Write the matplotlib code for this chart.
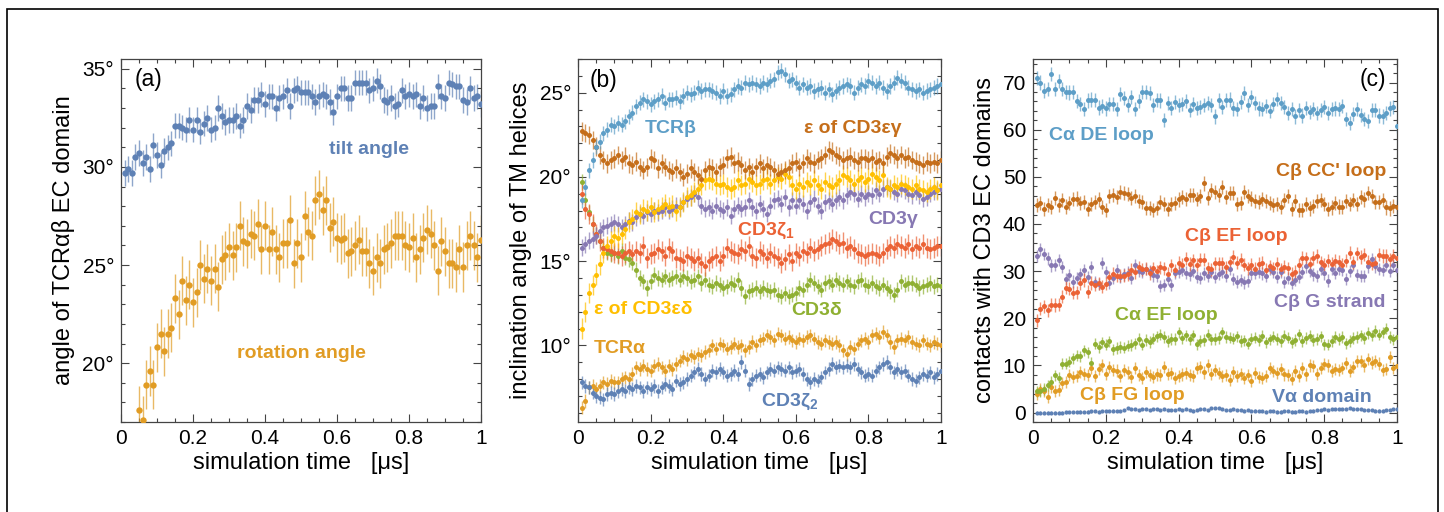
import numpy as np
import matplotlib.pyplot as plt
from matplotlib.colors import to_rgba
from matplotlib.patches import Rectangle
from matplotlib.ticker import MultipleLocator, FuncFormatter

plt.rcParams['font.family'] = ['Liberation Sans', 'DejaVu Sans']
plt.rcParams['mathtext.fontset'] = 'custom'
plt.rcParams['mathtext.rm'] = 'Liberation Sans'
plt.rcParams['mathtext.bf'] = 'Liberation Sans:bold'

# -----------------------------
# data, time in microseconds
# -----------------------------
t = np.round(np.arange(1, 101) * 0.01, 2)

# (a) orientation of the TCR EC domain
tilt = [29.7, 29.9, 29.7, 30.5, 30.7, 30.2, 30.5, 29.9, 31.1, 30.6,
        30.1, 30.8, 31.0, 31.2, 32.1, 32.1, 32.0, 31.9, 32.4, 31.9,
        32.4, 31.8, 32.2, 32.5, 31.9, 32.0, 33.0, 32.6, 32.3, 32.4,
        32.4, 32.6, 32.1, 32.4, 33.1, 32.9, 33.4, 33.4, 33.7, 33.2,
        33.6, 33.6, 33.0, 33.5, 33.6, 33.9, 33.1, 33.9, 34.0, 33.8,
        33.8, 33.8, 33.6, 33.3, 33.6, 33.7, 33.6, 33.3, 32.8, 33.6,
        34.0, 34.0, 33.5, 33.5, 34.3, 34.3, 34.3, 34.3, 33.9, 34.0,
        34.4, 34.1, 33.4, 33.3, 33.5, 33.1, 33.2, 33.9, 33.6, 33.7,
        33.6, 33.7, 33.1, 33.5, 33.0, 33.1, 33.1, 34.1, 33.6, 33.5,
        34.3, 34.2, 34.1, 34.1, 33.4, 33.3, 34.0, 33.5, 33.6, 33.2]
rotation = [13.0, 14.0, 15.0, 15.6, 17.6, 17.1, 18.9, 19.6, 18.9, 20.8,
            21.5, 20.6, 21.5, 21.8, 23.3, 22.5, 24.2, 23.2, 24.0, 23.1,
            23.6, 25.0, 24.3, 24.8, 24.2, 24.8, 23.9, 25.3, 25.5, 25.9,
            25.5, 25.9, 27.0, 26.2, 26.1, 26.6, 26.5, 27.1, 25.8, 27.0,
            25.8, 26.7, 25.8, 25.4, 26.1, 26.1, 27.3, 25.1, 26.1, 25.4,
            27.5, 26.7, 26.5, 28.3, 28.6, 27.8, 28.3, 26.9, 27.2, 26.4,
            26.3, 26.4, 25.6, 25.7, 26.0, 26.3, 25.7, 25.7, 25.1, 24.7,
            25.4, 25.1, 25.8, 25.9, 26.1, 26.5, 26.5, 26.5, 26.0, 25.9,
            26.4, 25.4, 25.8, 26.4, 26.8, 26.6, 26.0, 24.7, 26.2, 25.7,
            25.1, 25.1, 24.9, 25.8, 24.9, 26.0, 26.5, 26.0, 25.4, 26.3]
err_tilt = 0.65
err_rotation = 1.25

# (b) inclination of the TM helices
tcr_b = [18.6, 19.4, 20.4, 21.0, 21.8, 22.1, 22.6, 22.8, 23.1, 23.0,
         23.2, 23.1, 23.3, 23.6, 23.8, 24.2, 24.4, 24.6, 24.5, 24.3,
         24.5, 24.6, 24.8, 24.4, 24.6, 24.6, 24.7, 24.5, 24.8, 25.0,
         24.9, 25.0, 25.3, 25.1, 25.2, 25.2, 25.1, 25.0, 24.8, 25.1,
         24.8, 24.9, 25.2, 25.4, 25.3, 25.6, 25.5, 25.6, 25.5, 25.4,
         25.6, 25.5, 25.7, 25.8, 26.2, 26.3, 26.1, 25.7, 25.8, 25.6,
         25.3, 25.5, 25.3, 25.4, 25.1, 25.2, 25.3, 25.0, 25.2, 24.9,
         25.1, 25.3, 25.4, 25.5, 25.4, 25.0, 25.3, 25.5, 25.4, 25.7,
         25.6, 25.4, 25.6, 25.3, 25.1, 25.4, 25.6, 25.9, 25.7, 25.6,
         25.3, 25.2, 25.1, 25.2, 25.0, 25.1, 25.2, 25.3, 25.4, 25.5]
eps_eg = [22.7, 22.6, 22.5, 22.2, 21.8, 21.3, 21.0, 20.8, 21.0, 21.1,
          21.3, 21.0, 21.2, 20.8, 20.7, 20.9, 20.6, 20.4, 20.6, 21.1,
          21.0, 20.5, 20.8, 20.6, 20.4, 20.3, 20.5, 20.3, 20.0, 20.2,
          20.5, 20.3, 20.1, 19.9, 20.4, 20.6, 20.5, 20.3, 20.6, 20.7,
          21.1, 21.2, 20.8, 20.9, 20.7, 20.4, 20.6, 20.3, 20.6, 20.8,
          20.5, 20.7, 20.6, 20.4, 20.2, 20.3, 20.4, 20.5, 20.8, 20.9,
          20.6, 20.8, 21.1, 20.9, 20.8, 21.0, 21.1, 21.3, 21.6, 21.5,
          21.3, 21.2, 21.0, 21.1, 21.2, 21.0, 20.9, 21.1, 21.1, 21.0,
          21.1, 20.9, 21.0, 20.8, 21.2, 21.4, 21.3, 21.1, 21.3, 21.1,
          21.2, 21.0, 20.9, 20.8, 20.7, 20.9, 20.8, 20.9, 20.8, 21.0]
eps_ed = [11.0, 12.0, 13.1, 13.6, 14.2, 14.8, 15.5, 15.9, 16.2, 16.5,
          16.4, 16.6, 16.9, 17.3, 17.5, 17.9, 17.8, 18.1, 18.0, 18.2,
          17.9, 18.1, 18.2, 18.4, 18.2, 18.3, 18.0, 18.2, 18.5, 18.8,
          18.9, 19.1, 19.3, 19.5, 19.8, 19.9, 19.8, 19.6, 19.5, 19.6,
          19.4, 19.3, 19.4, 19.8, 19.5, 19.6, 19.9, 19.7, 19.5, 19.6,
          19.8, 19.9, 19.6, 19.8, 20.0, 19.9, 20.2, 20.0, 19.5, 19.3,
          19.6, 19.4, 19.7, 19.5, 19.8, 19.5, 19.3, 19.7, 19.5, 19.4,
          19.6, 19.8, 20.1, 20.0, 19.8, 19.6, 19.8, 20.0, 19.7, 19.9,
          20.2, 20.0, 19.8, 20.1, 19.4, 19.3, 19.5, 19.4, 19.6, 19.5,
          19.4, 19.3, 19.5, 19.3, 19.2, 19.1, 19.3, 19.4, 19.2, 19.5]
cd3_g = [15.8, 16.0, 16.2, 16.3, 16.5, 16.8, 17.0, 17.1, 17.2, 17.3,
         17.2, 17.0, 17.2, 17.4, 17.3, 17.6, 17.8, 17.7, 17.9, 17.8,
         18.0, 17.9, 18.0, 18.2, 18.0, 18.1, 18.3, 18.2, 18.5, 18.7,
         18.8, 19.0, 18.8, 18.3, 18.1, 18.2, 18.0, 18.3, 18.1, 18.0,
         18.2, 17.7, 18.1, 18.3, 18.1, 18.2, 18.6, 18.2, 18.0, 18.4,
         18.1, 17.8, 18.3, 18.6, 18.7, 18.4, 18.8, 18.2, 18.6, 18.3,
         18.6, 18.4, 18.0, 18.5, 18.7, 18.3, 18.0, 18.5, 18.6, 18.4,
         18.6, 18.8, 18.6, 18.9, 19.1, 19.0, 18.7, 19.0, 18.8, 19.0,
         18.9, 19.2, 19.0, 19.3, 19.4, 19.3, 19.1, 19.0, 19.3, 19.2,
         19.0, 18.9, 19.1, 18.9, 18.7, 18.8, 19.0, 19.1, 19.2, 19.3]
cd3_z1 = [19.0, 18.1, 17.8, 17.2, 16.6, 16.2, 15.8, 15.7, 15.6, 15.5,
          15.5, 15.3, 15.5, 15.6, 15.4, 15.6, 15.5, 15.9, 15.2, 15.4,
          15.5, 15.7, 15.6, 15.3, 15.8, 15.6, 15.2, 15.1, 15.0, 15.3,
          15.2, 15.0, 15.2, 14.9, 14.7, 15.0, 15.2, 15.3, 15.0, 15.3,
          15.8, 15.6, 15.5, 15.4, 15.7, 15.6, 15.9, 15.3, 15.2, 15.6,
          15.4, 15.2, 15.5, 15.3, 15.2, 14.9, 15.1, 15.4, 15.0, 15.5,
          15.3, 15.6, 15.5, 15.8, 15.6, 15.7, 15.9, 16.0, 16.1, 16.3,
          16.2, 16.0, 16.1, 15.8, 15.9, 15.7, 15.5, 15.4, 15.3, 15.4,
          15.5, 15.4, 15.3, 15.5, 15.7, 15.9, 15.8, 16.0, 15.9, 15.8,
          16.0, 15.7, 15.9, 15.8, 16.0, 15.8, 15.7, 15.8, 15.9, 15.9]
cd3_d = [19.7, 18.6, 17.9, 17.2, 16.6, 16.2, 15.8, 15.5, 15.4, 15.5,
         15.3, 15.6, 15.2, 15.1, 14.9, 14.5, 14.0, 13.8, 13.4, 13.8,
         14.2, 14.0, 13.9, 14.1, 13.9, 14.0, 14.1, 13.9, 14.1, 14.0,
         13.8, 13.9, 14.1, 13.7, 13.9, 13.6, 13.5, 13.7, 13.6, 13.4,
         13.5, 13.7, 13.6, 13.9, 13.4, 12.9, 13.2, 13.3, 13.4, 13.2,
         13.4, 13.3, 13.2, 13.3, 13.0, 12.9, 13.1, 12.9, 13.0, 13.1,
         13.4, 13.3, 13.6, 13.9, 13.7, 13.5, 13.3, 13.7, 13.8, 13.6,
         13.9, 13.7, 13.6, 13.8, 13.6, 13.5, 13.8, 13.9, 13.6, 13.5,
         13.7, 13.5, 13.4, 13.6, 13.4, 13.2, 13.0, 13.3, 13.8, 13.6,
         13.7, 13.7, 13.6, 13.4, 13.5, 13.6, 13.7, 13.5, 13.6, 13.5]
tcr_a = [6.3, 6.7, 7.5, 7.6, 7.4, 7.6, 7.8, 7.7, 7.9, 7.8,
         7.8, 8.0, 8.1, 8.0, 8.3, 8.7, 8.6, 8.8, 8.6, 8.5,
         8.8, 8.9, 8.7, 8.5, 8.8, 8.6, 8.9, 9.1, 9.3, 9.2,
         9.4, 9.3, 9.5, 9.4, 9.6, 9.7, 10.0, 9.8, 10.1, 10.0,
         9.8, 9.9, 10.1, 9.9, 10.0, 9.7, 9.9, 10.2, 10.0, 10.3,
         10.4, 10.6, 10.5, 10.3, 10.7, 10.6, 10.4, 10.5, 10.3, 10.2,
         10.4, 10.3, 10.5, 10.6, 10.4, 10.2, 10.1, 10.3, 10.2, 10.1,
         10.2, 10.0, 9.7, 9.5, 9.9, 9.8, 10.1, 10.3, 10.4, 10.2,
         10.6, 10.7, 10.5, 10.8, 10.6, 10.2, 9.9, 10.3, 10.4, 10.3,
         10.5, 10.2, 10.1, 10.0, 10.3, 10.1, 10.0, 10.2, 10.1, 10.0]
cd3_z2 = [7.8, 7.6, 7.5, 7.2, 7.0, 6.9, 6.8, 7.1, 7.2, 7.1,
          7.3, 7.4, 7.3, 7.5, 7.4, 7.6, 7.5, 7.3, 7.5, 7.4,
          7.6, 7.3, 7.5, 7.7, 7.6, 7.4, 7.9, 7.7, 7.8, 8.0,
          8.2, 8.4, 8.6, 8.3, 8.0, 8.2, 8.5, 8.4, 8.6, 8.4,
          8.2, 8.3, 8.5, 8.3, 9.0, 8.5, 7.7, 8.0, 8.2, 8.3,
          8.1, 8.4, 8.6, 8.5, 8.7, 8.6, 8.5, 8.7, 8.4, 8.5,
          8.6, 8.3, 8.0, 7.8, 8.0, 7.9, 8.1, 8.4, 8.6, 8.9,
          8.7, 8.8, 8.7, 8.8, 8.7, 8.9, 8.6, 8.4, 8.2, 8.3,
          8.2, 8.5, 8.7, 8.9, 9.0, 8.7, 8.4, 8.6, 8.4, 8.5,
          8.2, 8.0, 7.9, 8.1, 8.3, 8.2, 8.4, 8.1, 8.3, 8.5]
err_b = {"tcr_b": 0.45, "eps_eg": 0.55, "eps_ed": 0.6, "cd3_g": 0.5,
         "cd3_z1": 0.6, "cd3_d": 0.45, "tcr_a": 0.4, "cd3_z2": 0.4}

# (c) contacts with the CD3 EC domains
ca_de = [71.0, 70.0, 68.3, 68.7, 71.8, 68.6, 70.4, 68.7, 68.0, 67.9,
         68.0, 66.0, 65.5, 64.3, 66.2, 66.4, 66.3, 64.7, 65.0, 64.5,
         65.5, 65.4, 64.3, 67.5, 66.8, 65.2, 67.0, 64.4, 66.0, 68.0,
         68.0, 67.7, 65.3, 66.3, 66.2, 62.1, 65.6, 64.6, 65.8, 65.2,
         65.4, 66.1, 64.2, 65.4, 64.6, 64.8, 65.2, 65.6, 65.3, 62.8,
         66.2, 64.9, 66.3, 66.4, 64.5, 64.3, 65.8, 67.7, 65.3, 67.0,
         65.7, 64.5, 64.3, 65.0, 64.0, 65.4, 66.5, 65.6, 64.8, 63.5,
         64.4, 62.8, 64.2, 63.0, 64.6, 63.8, 64.3, 63.6, 64.2, 64.9,
         63.6, 64.3, 64.5, 64.4, 65.1, 62.3, 61.5, 63.3, 64.4, 63.1,
         62.3, 61.9, 64.2, 64.1, 63.0, 62.8, 63.5, 64.5, 64.8, 60.8]
cb_cc = [44.0, 44.5, 43.2, 44.0, 43.6, 45.6, 44.1, 45.0, 43.7, 44.4,
         45.3, 45.4, 44.4, 44.6, 43.2, 44.2, 44.6, 45.2, 43.6, 43.0,
         46.0, 46.2, 45.8, 46.8, 46.5, 46.4, 45.5, 46.0, 44.9, 44.6,
         43.4, 43.4, 43.0, 43.4, 44.6, 44.2, 43.1, 44.3, 44.5, 45.2,
         45.8, 45.3, 46.2, 46.1, 45.3, 46.0, 48.6, 45.5, 47.2, 46.7,
         46.2, 47.9, 45.8, 46.5, 46.6, 44.3, 44.5, 46.7, 45.9, 45.4,
         44.9, 44.6, 45.3, 44.8, 44.5, 44.1, 44.2, 43.6, 45.0, 45.9,
         43.2, 44.9, 42.9, 43.0, 44.2, 43.3, 43.8, 44.9, 45.1, 44.3,
         43.1, 43.5, 44.4, 43.7, 43.6, 44.8, 44.2, 45.0, 44.3, 45.8,
         45.2, 46.5, 45.9, 44.6, 44.7, 45.1, 43.5, 43.3, 43.8, 43.6]
cb_ef = [19.6, 22.0, 22.5, 21.7, 22.9, 22.8, 22.9, 24.6, 26.5, 26.3,
         25.4, 25.5, 27.4, 28.1, 25.6, 27.5, 27.1, 27.4, 26.7, 27.3,
         28.7, 29.4, 29.0, 29.0, 29.0, 29.3, 30.3, 29.8, 30.8, 30.4,
         30.5, 29.6, 30.6, 30.0, 30.8, 30.6, 29.4, 31.2, 30.2, 31.8,
         31.3, 32.6, 31.5, 32.3, 31.4, 32.4, 32.4, 30.6, 30.4, 31.7,
         31.7, 31.7, 30.8, 31.9, 33.0, 31.8, 32.4, 31.4, 30.6, 31.4,
         30.5, 31.6, 31.8, 30.3, 31.0, 30.6, 31.6, 30.4, 30.9, 30.6,
         29.4, 29.8, 31.3, 32.8, 32.7, 31.5, 32.8, 33.2, 31.9, 31.4,
         32.2, 31.6, 32.2, 32.0, 31.3, 32.2, 33.9, 31.9, 33.8, 33.0,
         33.5, 32.0, 31.6, 31.8, 33.5, 33.2, 33.2, 32.5, 33.3, 32.7]
cb_g = [33.2, 34.6, 33.6, 32.7, 31.2, 31.3, 32.3, 30.8, 28.4, 29.2,
        27.8, 28.5, 29.4, 30.3, 28.8, 30.8, 27.7, 27.3, 31.8, 29.8,
        27.5, 28.5, 30.3, 28.7, 29.3, 29.7, 28.6, 31.3, 30.1, 29.8,
        30.4, 30.0, 29.1, 29.0, 26.8, 27.0, 28.3, 27.0, 29.6, 29.9,
        30.3, 29.7, 29.3, 30.1, 28.7, 28.6, 29.5, 29.0, 29.8, 28.7,
        29.4, 29.8, 29.0, 30.5, 28.3, 27.8, 28.1, 27.6, 28.0, 29.5,
        29.7, 29.8, 29.5, 29.0, 30.5, 29.8, 28.7, 29.9, 27.7, 28.6,
        27.5, 28.2, 28.8, 29.8, 31.0, 30.0, 29.3, 29.0, 30.4, 29.5,
        28.0, 30.4, 29.6, 30.5, 30.3, 28.3, 30.0, 31.3, 29.2, 29.0,
        29.0, 31.0, 32.5, 31.0, 30.5, 30.2, 31.4, 30.1, 31.2, 30.3]
ca_ef = [4.5, 4.6, 5.0, 5.8, 6.5, 7.9, 7.4, 10.4, 10.4, 10.8,
         11.5, 12.1, 11.9, 13.2, 12.8, 10.5, 14.6, 13.9, 14.9, 14.4,
         15.1, 13.4, 13.7, 13.9, 13.8, 14.2, 14.3, 14.7, 15.6, 14.4,
         15.4, 15.0, 15.7, 16.2, 16.5, 16.0, 15.2, 15.6, 15.6, 17.0,
         15.8, 16.4, 15.5, 16.4, 14.5, 15.2, 15.4, 16.5, 15.5, 15.6,
         15.8, 17.0, 16.0, 15.9, 15.7, 16.2, 15.2, 15.3, 14.6, 15.7,
         15.9, 15.4, 16.3, 14.9, 15.5, 16.1, 15.6, 15.2, 16.3, 15.9,
         14.9, 15.4, 16.6, 15.2, 15.8, 16.3, 15.4, 15.6, 16.2, 14.5,
         14.4, 15.2, 16.0, 15.6, 16.0, 14.7, 15.2, 15.8, 16.0, 16.4,
         15.8, 16.9, 16.4, 17.3, 16.5, 17.0, 17.8, 16.0, 15.5, 16.0]
cb_fg = [4.0, 4.9, 4.5, 3.4, 5.4, 4.6, 4.8, 6.2, 6.5, 8.0,
         7.5, 7.8, 8.6, 8.2, 7.9, 9.4, 7.8, 9.2, 10.0, 8.2,
         9.7, 9.0, 8.9, 7.7, 9.1, 8.5, 7.6, 9.5, 8.0, 7.4,
         8.6, 8.0, 7.6, 8.1, 7.9, 9.6, 8.2, 8.4, 7.3, 7.7,
         8.1, 8.4, 8.0, 7.7, 9.5, 9.6, 8.5, 10.0, 8.2, 9.0,
         8.4, 7.7, 8.0, 6.9, 8.5, 7.7, 8.2, 7.4, 8.0, 6.8,
         8.4, 7.6, 7.3, 7.8, 9.5, 8.8, 8.4, 9.3, 8.1, 8.0,
         7.2, 8.8, 7.8, 9.4, 8.1, 10.0, 9.8, 8.2, 9.5, 10.3,
         10.0, 8.8, 9.2, 9.0, 9.4, 10.5, 8.9, 9.6, 11.0, 11.0,
         10.0, 11.3, 10.6, 11.0, 10.4, 9.0, 9.2, 11.8, 9.5, 9.9]
va_dom = [0.0, 0.0, 0.0, 0.0, 0.0, 0.0, 0.0, 0.0, 0.05, 0.1,
          0.1, 0.15, 0.2, 0.1, 0.2, 0.25, 0.3, 0.2, 0.3, 0.25,
          0.3, 0.4, 0.35, 0.3, 0.5, 1.0, 0.8, 0.7, 0.6, 0.8,
          0.7, 0.6, 0.7, 0.8, 0.6, 0.7, 0.5, 0.6, 0.6, 0.7,
          0.6, 0.7, 0.5, 0.4, 0.6, 0.8, 0.8, 0.6, 0.9, 1.0,
          1.0, 0.8, 0.6, 0.6, 0.7, 0.5, 0.6, 0.4, 0.5, 0.3,
          0.4, 0.3, 0.3, 0.2, 0.3, 0.3, 0.2, 0.2, 0.3, 0.3,
          0.2, 0.2, 0.3, 0.3, 0.2, 0.3, 0.4, 0.5, 0.6, 0.7,
          0.6, 0.7, 0.8, 0.8, 0.7, 0.8, 0.9, 0.8, 0.7, 0.7,
          0.6, 0.5, 0.5, 0.4, 0.4, 0.4, 0.5, 0.6, 0.7, 0.7]
err_c = {"ca_de": 1.5, "cb_cc": 1.5, "cb_ef": 1.4, "cb_g": 1.3,
         "ca_ef": 1.2, "cb_fg": 1.3, "va_dom": 0.25}

# -----------------------------
# colours (Mathematica default palette)
# -----------------------------
BLUE = "#5E81B5"
ORANGE = "#E19C24"
GREEN = "#8FB032"
RED = "#EB6235"
PURPLE = "#8778B3"
BROWN = "#C56E1A"
SKY = "#5D9EC7"
YELLOW = "#FFBF00"


def series(ax, y, err, color, ms=3.6):
    ax.errorbar(t, y, yerr=err, fmt="o", ms=ms, mew=0, color=color,
                ecolor=to_rgba(color, 0.7), elinewidth=1.0,
                capsize=2.2, capthick=1.0, zorder=3)


def frame(ax, ylim, major, minor, ylabel, deg=False):
    ax.set_xlim(0, 1)
    ax.set_ylim(*ylim)
    ax.xaxis.set_major_locator(MultipleLocator(0.2))
    ax.xaxis.set_minor_locator(MultipleLocator(0.05))
    ax.xaxis.set_major_formatter(FuncFormatter(lambda v, p: f"{v:g}"))
    ax.yaxis.set_major_locator(MultipleLocator(major))
    ax.yaxis.set_minor_locator(MultipleLocator(minor))
    if deg:
        ax.yaxis.set_major_formatter(FuncFormatter(lambda v, p: f"{v:.0f}°"))
    ax.tick_params(which="both", direction="in", top=True, right=True,
                   labelsize=15, color="#444444", width=0.8)
    ax.tick_params(which="major", length=5.5, pad=5)
    ax.tick_params(which="minor", length=3)
    for s in ax.spines.values():
        s.set_color("#444444")
        s.set_linewidth(0.9)
    ax.set_xlabel("simulation time   [μs]", fontsize=17, labelpad=3)
    ax.set_ylabel(ylabel, fontsize=17, labelpad=5)


fig = plt.figure(figsize=(14.44, 5.12), dpi=100)
ax1 = fig.add_axes([0.0838, 0.1758, 0.2493, 0.709])
ax2 = fig.add_axes([0.4003, 0.1758, 0.2514, 0.709])
ax3 = fig.add_axes([0.7154, 0.1758, 0.2521, 0.709])

lab = dict(fontsize=14, fontweight="bold", ha="center", va="center")

# -----------------------------
# (a)
# -----------------------------
series(ax1, tilt, err_tilt, BLUE, ms=4.6)
series(ax1, rotation, err_rotation, ORANGE, ms=4.6)
frame(ax1, (17.0, 35.5), 5, 1, "angle of TCRαβ EC domain", deg=True)
ax1.text(0.69, 30.9, "tilt angle", color=BLUE, **lab)
ax1.text(0.50, 20.5, "rotation angle", color=ORANGE, **lab)
ax1.text(0.075, 34.45, "(a)", fontsize=16.5, ha="center", va="center")

# -----------------------------
# (b)
# -----------------------------
series(ax2, tcr_a, err_b["tcr_a"], ORANGE)
series(ax2, cd3_z2, err_b["cd3_z2"], BLUE)
series(ax2, cd3_d, err_b["cd3_d"], GREEN)
series(ax2, cd3_z1, err_b["cd3_z1"], RED)
series(ax2, cd3_g, err_b["cd3_g"], PURPLE)
series(ax2, eps_ed, err_b["eps_ed"], YELLOW)
series(ax2, eps_eg, err_b["eps_eg"], BROWN)
series(ax2, tcr_b, err_b["tcr_b"], SKY)
frame(ax2, (5.45, 27.0), 5, 1, "inclination angle of TM helices", deg=True)
ax2.text(0.256, 22.9, "TCRβ", color=SKY, **lab)
ax2.text(0.757, 22.9, "ε of CD3εγ", color=BROWN, **lab)
ax2.text(0.867, 17.5, "CD3γ", color=PURPLE, **lab)
ax2.text(0.516, 16.8, r"CD3ζ$_{\mathbf{1}}$", color=RED, **lab)
ax2.text(0.181, 12.1, "ε of CD3εδ", color=YELLOW, **lab)
ax2.text(0.656, 12.05, "CD3δ", color=GREEN, **lab)
ax2.text(0.115, 9.8, "TCRα", color=ORANGE, **lab)
ax2.text(0.584, 6.65, r"CD3ζ$_{\mathbf{2}}$", color=BLUE, **lab)
ax2.text(0.071, 25.75, "(b)", fontsize=16.5, ha="center", va="center")

# -----------------------------
# (c)
# -----------------------------
series(ax3, va_dom, err_c["va_dom"], BLUE, ms=3.0)
series(ax3, cb_fg, err_c["cb_fg"], ORANGE)
series(ax3, ca_ef, err_c["ca_ef"], GREEN)
series(ax3, cb_g, err_c["cb_g"], PURPLE)
series(ax3, cb_ef, err_c["cb_ef"], RED)
series(ax3, cb_cc, err_c["cb_cc"], BROWN)
series(ax3, ca_de, err_c["ca_de"], SKY)
frame(ax3, (-2.0, 75.0), 10, 2, "contacts with CD3 EC domains")
ax3.text(0.188, 58.8, "Cα DE loop", color=SKY, **lab)
ax3.text(0.818, 51.2, "Cβ CC' loop", color=BROWN, **lab)
ax3.text(0.559, 37.3, "Cβ EF loop", color=RED, **lab)
ax3.text(0.816, 23.3, "Cβ G strand", color=PURPLE, **lab)
ax3.text(0.365, 20.65, "Cα EF loop", color=GREEN, **lab)
ax3.text(0.273, 3.7, "Cβ FG loop", color=ORANGE, **lab)
ax3.text(0.793, 3.2, "Vα domain", color=BLUE, **lab)
ax3.text(0.933, 70.7, "(c)", fontsize=16.5, ha="center", va="center")

# outer frame of the figure
fig.add_artist(Rectangle((7 / 1444, -0.05), 1431 / 1444, 1.05 - 9 / 512,
                         transform=fig.transFigure, fill=False,
                         lw=1.2, ec="black"))

fig.savefig("out.png", dpi=100)
